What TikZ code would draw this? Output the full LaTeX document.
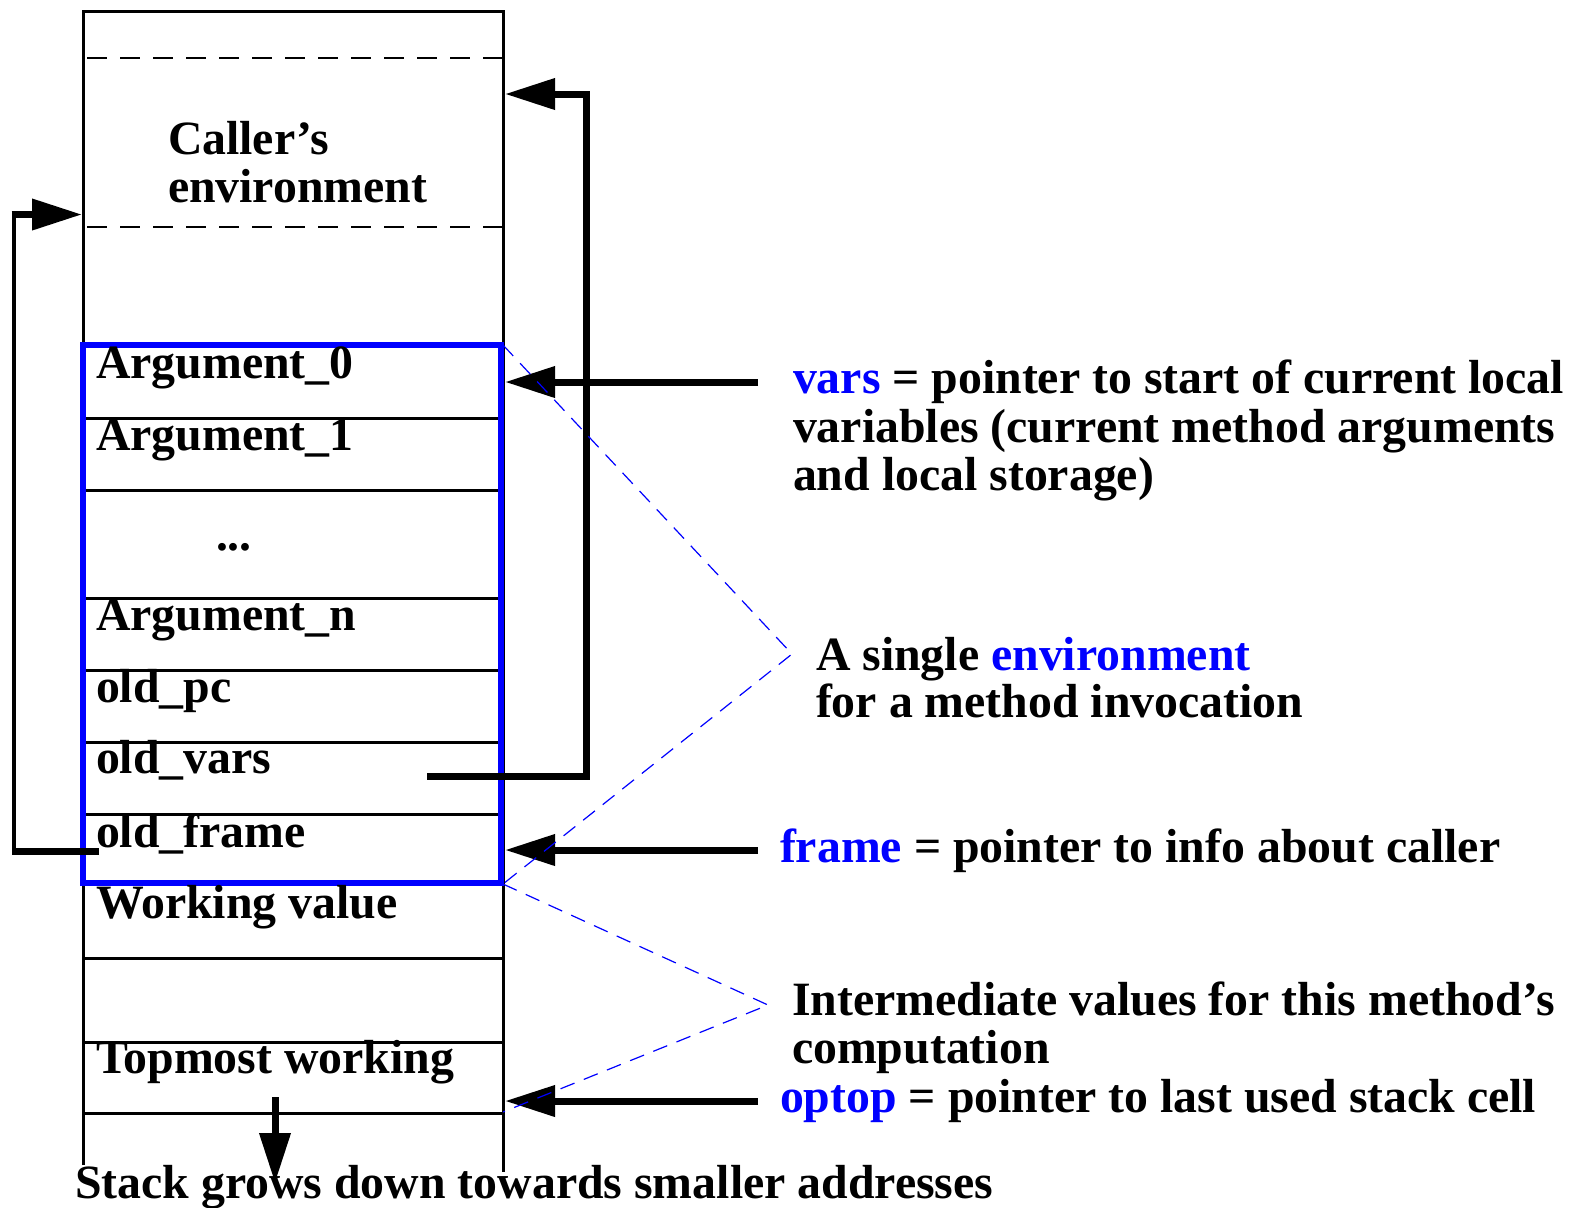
\documentclass[tikz,border=0pt]{standalone}
\usepackage{fontspec}
\setmainfont{Liberation Serif}
\usetikzlibrary{arrows.meta}
\begin{document}
\begin{tikzpicture}[x=0.5pt,y=-0.5pt,
  lbl/.style={anchor=base west, inner sep=0pt, outer sep=0pt,
    font=\bfseries\fontsize{23.9}{28}\selectfont},
  cell/.style={line width=1.5pt},
  sep/.style={line width=1.2pt, dash pattern=on 10pt off 6.5pt},
  frame box/.style={draw=blue, line width=3pt},
  ptr/.style={line width=3.5pt, -{Triangle[length=25pt,width=15pt]}},
  guide/.style={blue, line width=0.6pt, dash pattern=on 7.5pt off 5pt}]
\useasboundingbox (0,0) rectangle (1569,1207);

% stack outline, open at the bottom
\draw[cell] (83,1165) -- (83,11) -- (503,11) -- (503,1172);
\draw[sep] (87,58) -- (503,58);
\draw[sep] (87,227) -- (503,227);

% cells of the current environment
\foreach \y in {418,490,598,670,742,814}
  \draw[cell] (83,\y) -- (501,\y);
% operand stack cells
\foreach \y in {958,1042,1113}
  \draw[cell] (83,\y) -- (503,\y);

% the environment box
\draw[frame box] (83,345) rectangle (501,883);

% labels inside the stack
\node[lbl] (caller1) at (168,154) {Caller’s};
\node[lbl] (caller2) at (168,202) {environment};
\node[lbl] (arg0) at (96,378) {Argument\_0};
\node[lbl] (arg1) at (96,450) {Argument\_1};
\node[lbl] (dots) at (216,550) {...};
\node[lbl] (argn) at (96,630) {Argument\_n};
\node[lbl] (oldpc) at (96,702) {old\_pc};
\node[lbl] (oldvars) at (96,773) {old\_vars};
\node[lbl] (oldframe) at (96,847) {old\_frame};
\node[lbl] (work) at (96,918) {Working value};
\node[lbl] (topw) at (96,1073) {Topmost working};
\node[lbl] (grows) at (75,1198) {Stack grows down towards smaller addresses};

% descriptions on the right
\node[lbl] (vars1) at (793,393) {\textcolor{blue}{vars} = pointer to start of current local};
\node[lbl] (vars2) at (793,442) {variables (current method arguments};
\node[lbl] (vars3) at (793,490) {and local storage)};
\node[lbl] (env1) at (816,670) {A single \textcolor{blue}{environment}};
\node[lbl] (env2) at (816,717) {for a method invocation};
\node[lbl] (frame) at (780,862) {\textcolor{blue}{frame} = pointer to info about caller};
\node[lbl] (inter1) at (792,1015) {Intermediate values for this method’s};
\node[lbl] (inter2) at (792,1063) {computation};
\node[lbl] (optop) at (780,1112) {\textcolor{blue}{optop} = pointer to last used stack cell};

% pointer end points
\coordinate (varsTip) at (505,382);
\coordinate (varsTail) at (758,382);
\coordinate (frameTip) at (505,850);
\coordinate (frameTail) at (758,850);
\coordinate (optopTip) at (505,1101);
\coordinate (optopTail) at (758,1101);
\coordinate (ovStart) at (427,776);
\coordinate (ovBot) at (586,776);
\coordinate (ovTop) at (586,94);
\coordinate (ovTip) at (505,94);
\coordinate (ofStart) at (99,851);
\coordinate (ofBot) at (11.5,851);
\coordinate (ofV1) at (13.5,854.5);
\coordinate (ofV2) at (13.5,211);
\coordinate (ofTop) at (11.5,214.5);
\coordinate (ofTip) at (82,214.5);
\coordinate (growTop) at (275,1097);
\coordinate (growTip) at (275,1183);

% pointers
\draw[ptr] (varsTail) -- (varsTip);
\draw[ptr] (frameTail) -- (frameTip);
\draw[ptr] (optopTail) -- (optopTip);
\draw[ptr] (ovStart) -- (ovBot) -- (ovTop) -- (ovTip);
\draw[line width=3.5pt] (ofStart) -- (ofBot);
\draw[line width=2pt] (ofV1) -- (ofV2);
\draw[ptr] (ofTop) -- (ofTip);
\draw[ptr] (growTop) -- (growTip);

% brace-like guides to the descriptions
\coordinate (envTop) at (503,345);
\coordinate (envApex) at (792,654);
\coordinate (envBot) at (503,884);
\coordinate (intApex) at (768,1005);
\coordinate (intBot) at (503,1112);
\draw[guide] (envTop) -- (envApex) -- (envBot);
\draw[guide] (envBot) -- (intApex) -- (intBot);
\end{tikzpicture}
\end{document}
